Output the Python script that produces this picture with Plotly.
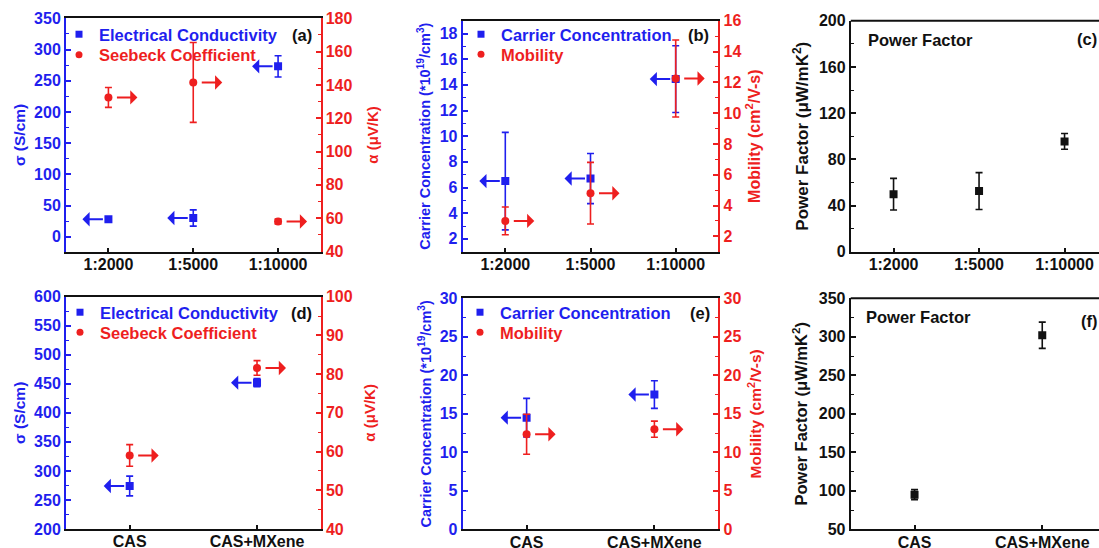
import plotly.graph_objects as go

# ---------------- data ----------------
ratio_cats = ["1:2000", "1:5000", "1:10000"]
sigma_a = [28, 30, 273]
sigma_a_err = [3.5, 13, 17]
seebeck_a = [132.5, 141.5, 58]
seebeck_a_err = [6, 24, 1.5]

conc_b = [6.5, 6.7, 14.45]
conc_b_err = [3.8, 1.95, 2.6]
mob_b = [3.0, 4.8, 12.25]
mob_b_err = [0.9, 2.0, 2.5]

pf_c = [49.8, 52.5, 95.5]
pf_c_err = [13.7, 16, 6.8]

sample_cats = ["CAS", "CAS+MXene"]
sigma_d = [274, 452]
sigma_d_err = [17, 7]
seebeck_d = [59, 81.6]
seebeck_d_err = [2.8, 1.9]

conc_e = [14.5, 17.5]
conc_e_err = [2.5, 1.8]
mob_e = [12.35, 13.0]
mob_e_err = [2.6, 1.05]

pf_f = [95, 302]
pf_f_err = [6.5, 17]

# ---------------- style ----------------
W, H = 1099, 548
BLUE = "#1f1fee"
RED = "#ee1f1f"
BLACK = "#111111"
FONT = "Liberation Sans, Arial, sans-serif"
TICK = 16


def px(x):
    return x / W


def py(y):
    return 1 - y / H


def xd(l, r):
    return [max(px(l), 0.0), min(px(r), 1.0)]


def yd(t, b):
    return [py(b), py(t)]


fig = go.Figure()
layout = dict(
    width=W, height=H, margin=dict(l=0, r=0, t=0, b=0, autoexpand=False),
    paper_bgcolor="white", plot_bgcolor="white",
    font=dict(family=FONT, size=14, color=BLACK, weight="bold"),
    showlegend=True,
)


def xaxis(domain, anchor, rng, cats):
    return dict(domain=domain, anchor=anchor, type="category", range=rng,
                categoryorder="array", categoryarray=cats, automargin=False,
                showline=True, linecolor=BLACK, linewidth=2, mirror=True,
                ticks="inside", ticklen=4, tickwidth=1.5, tickcolor=BLACK,
                ticklabelstandoff=-3,
                tickfont=dict(family=FONT, size=TICK, color=BLACK, weight="bold"),
                showgrid=False, zeroline=False, fixedrange=True)


def yaxis(domain, anchor, rng, dtick, mdtick, color, title, standoff,
          side="left", overlaying=None, tsize=14):
    d = dict(domain=domain, anchor=anchor, range=rng, dtick=dtick, automargin=False,
             showline=True, linecolor=color, linewidth=2, side=side,
             ticks="inside", ticklen=5, tickwidth=1.5, tickcolor=color,
             minor=dict(ticks="inside", ticklen=3, tickwidth=1.2, tickcolor=color, dtick=mdtick),
             tickfont=dict(family=FONT, size=TICK, color=color, weight="bold"),
             title=dict(text=title, standoff=standoff,
                        font=dict(family=FONT, size=tsize, color=color, weight="bold")),
             showgrid=False, zeroline=False, fixedrange=True)
    if overlaying:
        d["overlaying"] = overlaying
    return d


# panel geometry (window pixels)
A = dict(x=(66, 320.5), y=(18.3, 251.5))
B = dict(x=(462.7, 718.3), y=(20.7, 251.7))
C = dict(x=(850.8, 1099), y=(20.7, 251.7))
D = dict(x=(66, 320.7), y=(296.7, 529))
E = dict(x=(462.7, 718.3), y=(298.3, 529.3))
F = dict(x=(850.7, 1099), y=(298.3, 529.3))

layout["xaxis"] = xaxis(xd(*A["x"]), "y", [-0.5, 2.5], ratio_cats)
layout["yaxis"] = yaxis(yd(*A["y"]), "x", [-23.7, 350], 50, 25, BLUE, "σ (S/cm)", 5, tsize=15.5)
layout["yaxis2"] = yaxis(yd(*A["y"]), "x", [40, 180], 20, 10, RED, "α (μV/K)", 16,
                         side="right", overlaying="y", tsize=15)

layout["xaxis2"] = xaxis(xd(*B["x"]), "y3", [-0.5, 2.5], ratio_cats)
layout["yaxis3"] = yaxis(yd(*B["y"]), "x2", [1, 19], 2, 1, BLUE,
                         "Carrier Concentration (*10<sup>19</sup>/cm<sup>3</sup>)", 6, tsize=14.5)
layout["yaxis4"] = yaxis(yd(*B["y"]), "x2", [1, 16], 2, 1, RED,
                         "Mobility (cm<sup>2</sup>/V-s)", 8, side="right", overlaying="y3", tsize=16)

c_right = -0.5 + (C["x"][1] - C["x"][0]) / 85.5
layout["xaxis3"] = xaxis(xd(*C["x"]), "y5", [-0.5, c_right], ratio_cats)
layout["yaxis5"] = yaxis(yd(*C["y"]), "x3", [0, 200], 40, 20, BLACK,
                         "Power Factor (μW/mK<sup>2</sup>)", 6, tsize=17)

layout["xaxis4"] = xaxis(xd(*D["x"]), "y6", [-0.5, 1.5], sample_cats)
layout["yaxis6"] = yaxis(yd(*D["y"]), "x4", [200, 600], 50, 25, BLUE, "σ (S/cm)", 5, tsize=15.5)
layout["yaxis7"] = yaxis(yd(*D["y"]), "x4", [40, 100], 10, 5, RED, "α (μV/K)", 13,
                         side="right", overlaying="y6", tsize=15)

layout["xaxis5"] = xaxis(xd(*E["x"]), "y8", [-0.5, 1.5], sample_cats)
layout["yaxis8"] = yaxis(yd(*E["y"]), "x5", [0, 30], 5, 2.5, BLUE,
                         "Carrier Concentration (*10<sup>19</sup>/cm<sup>3</sup>)", 5, tsize=14.5)
layout["yaxis9"] = yaxis(yd(*E["y"]), "x5", [0, 30], 5, 2.5, RED,
                         "Mobility (cm<sup>2</sup>/V-s)", 10, side="right", overlaying="y8", tsize=15.5)

f_right = -0.5 + (F["x"][1] - F["x"][0]) / 127.7
layout["xaxis6"] = xaxis(xd(*F["x"]), "y10", [-0.5, f_right], sample_cats)
layout["yaxis10"] = yaxis(yd(*F["y"]), "x6", [50, 350], 50, 25, BLACK,
                          "Power Factor (μW/mK<sup>2</sup>)", 7, tsize=16.5)

# for c and f: no mirrored right frame line (panel is cut at the window edge)
for k in ("xaxis3", "xaxis6"):
    layout[k]["mirror"] = False

shapes = []
for xr, yr in (("x3 domain", "y5 domain"), ("x6 domain", "y10 domain")):
    shapes.append(dict(type="line", xref=xr, yref=yr, x0=0, x1=1, y0=1, y1=1,
                       line=dict(color=BLACK, width=2)))
layout["shapes"] = shapes


def add_points(x, y, err, color, symbol, xa, ya, name):
    fig.add_trace(go.Scatter(
        x=x, y=y, mode="markers", name=name, showlegend=False,
        xaxis=xa, yaxis=ya,
        marker=dict(symbol=symbol, size=8, color=color),
        error_y=dict(type="data", array=err, visible=True, color=color,
                     thickness=1.6, width=3.5),
    ))


def add_legend_item(name, color, symbol, xa, ya, legend):
    fig.add_trace(go.Scatter(
        x=[None], y=[None], mode="markers", xaxis=xa, yaxis=ya,
        name=f'<span style="color:{color}">{name}</span>',
        marker=dict(symbol=symbol, size=7, color=color),
        legend=legend, showlegend=True,
    ))


annotations = []


def add_arrows(cats, vals, xr, yr, color, direction):
    for c, v in zip(cats, vals):
        if direction < 0:
            annotations.append(dict(x=c, y=v, xref=xr, yref=yr, text="", showarrow=True,
                                    xshift=-26, ax=22, ay=0, arrowhead=1, arrowsize=1.2,
                                    arrowwidth=2, arrowcolor=color, standoff=0))
        else:
            annotations.append(dict(x=c, y=v, xref=xr, yref=yr, text="", showarrow=True,
                                    xshift=29, ax=-22, ay=0, arrowhead=1, arrowsize=1.2,
                                    arrowwidth=2, arrowcolor=color, standoff=0))


# panel a
add_points(ratio_cats, sigma_a, sigma_a_err, BLUE, "square", "x", "y", "Electrical Conductivity")
add_points(ratio_cats, seebeck_a, seebeck_a_err, RED, "circle", "x", "y2", "Seebeck Coefficient")
add_arrows(ratio_cats, sigma_a, "x", "y", BLUE, -1)
add_arrows(ratio_cats, seebeck_a, "x", "y2", RED, 1)
add_legend_item("Electrical Conductivity", BLUE, "square", "x", "y", "legend")
add_legend_item("Seebeck Coefficient", RED, "circle", "x", "y", "legend2")

# panel b
add_points(ratio_cats, conc_b, conc_b_err, BLUE, "square", "x2", "y3", "Carrier Concentration")
add_points(ratio_cats, mob_b, mob_b_err, RED, "circle", "x2", "y4", "Mobility")
add_arrows(ratio_cats, conc_b, "x2", "y3", BLUE, -1)
add_arrows(ratio_cats, mob_b, "x2", "y4", RED, 1)
add_legend_item("Carrier Concentration", BLUE, "square", "x2", "y3", "legend3")
add_legend_item("Mobility", RED, "circle", "x2", "y3", "legend4")

# panel c
add_points(ratio_cats, pf_c, pf_c_err, BLACK, "square", "x3", "y5", "Power Factor")

# panel d
add_points(sample_cats, sigma_d, sigma_d_err, BLUE, "square", "x4", "y6", "Electrical Conductivity")
add_points(sample_cats, seebeck_d, seebeck_d_err, RED, "circle", "x4", "y7", "Seebeck Coefficient")
add_arrows(sample_cats, sigma_d, "x4", "y6", BLUE, -1)
add_arrows(sample_cats, seebeck_d, "x4", "y7", RED, 1)
add_legend_item("Electrical Conductivity", BLUE, "square", "x4", "y6", "legend5")
add_legend_item("Seebeck Coefficient", RED, "circle", "x4", "y6", "legend6")

# panel e
add_points(sample_cats, conc_e, conc_e_err, BLUE, "square", "x5", "y8", "Carrier Concentration")
add_points(sample_cats, mob_e, mob_e_err, RED, "circle", "x5", "y9", "Mobility")
add_arrows(sample_cats, conc_e, "x5", "y8", BLUE, -1)
add_arrows(sample_cats, mob_e, "x5", "y9", RED, 1)
add_legend_item("Carrier Concentration", BLUE, "square", "x5", "y8", "legend7")
add_legend_item("Mobility", RED, "circle", "x5", "y8", "legend8")

# panel f
add_points(sample_cats, pf_f, pf_f_err, BLACK, "square", "x6", "y10", "Power Factor")


def legend_at(x, y):
    return dict(x=px(x), y=py(y), xanchor="left", yanchor="top",
                bgcolor="rgba(0,0,0,0)", borderwidth=0, tracegroupgap=0,
                font=dict(family=FONT, size=16.5, weight="bold"), itemclick=False)


layout["legend"] = legend_at(59, 17)
layout["legend2"] = legend_at(59, 37.5)
layout["legend3"] = legend_at(461, 17)
layout["legend4"] = legend_at(461, 37)
layout["legend5"] = legend_at(60, 295)
layout["legend6"] = legend_at(60, 315)
layout["legend7"] = legend_at(460, 295)
layout["legend8"] = legend_at(460, 315)


def label(text, x, y, size=16.5, anchor="center"):
    annotations.append(dict(text=text, x=min(px(x), 1.0), y=py(y), xref="paper", yref="paper",
                            showarrow=False, xanchor=anchor, yanchor="middle",
                            font=dict(family=FONT, size=size, color=BLACK, weight="bold")))


label("(a)", 302, 35)
label("(b)", 698, 35)
label("(c)", 1099, 39, anchor="right")
label("(d)", 301, 313)
label("(e)", 700, 313)
label("(f)", 1099, 321, anchor="right")
label("Power Factor", 866, 40, anchor="left")
label("Power Factor", 864, 317, anchor="left")

layout["annotations"] = annotations
fig.update_layout(**layout)
fig.write_html(
    "out.html",
    config={"displayModeBar": False},
    post_script="document.body.style.margin='0';document.body.style.overflow='hidden';",
)
